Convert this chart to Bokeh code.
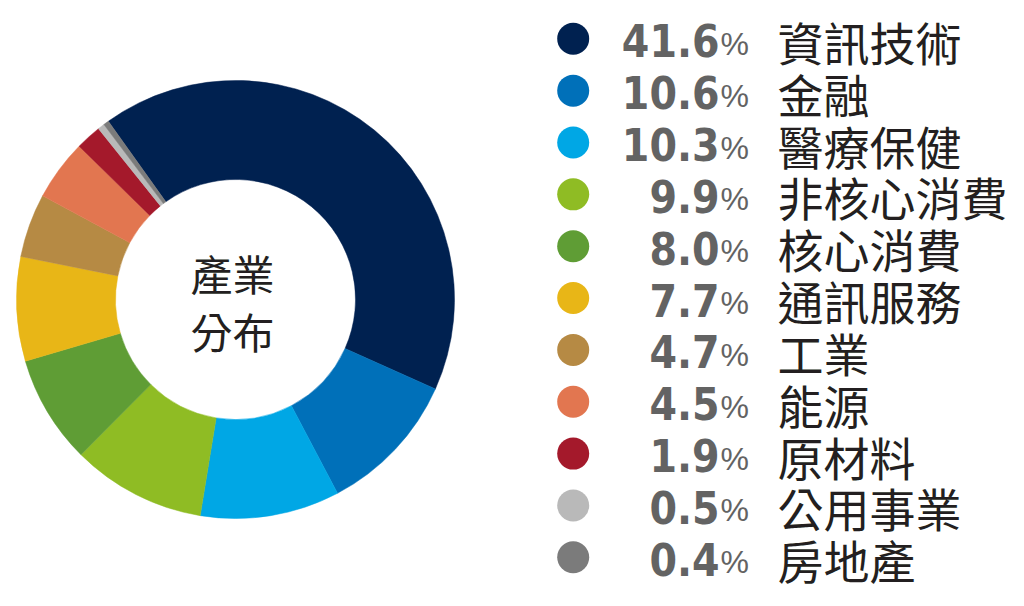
import numpy as np
from bokeh.plotting import figure
from bokeh.models import Range1d, ColumnDataSource
from bokeh.core.properties import value
from bokeh.embed import file_html
from bokeh.resources import INLINE

sectors = ["資訊技術", "金融", "醫療保健", "非核心消費", "核心消費", "通訊服務",
           "工業", "能源", "原材料", "公用事業", "房地產"]
weights = [41.6, 10.6, 10.3, 9.9, 8.0, 7.7, 4.7, 4.5, 1.9, 0.5, 0.4]
pct_labels = ["41.6", "10.6", "10.3", "9.9", "8.0", "7.7", "4.7", "4.5", "1.9", "0.5", "0.4"]
colors = ["#002150", "#0070b9", "#00a7e5", "#8fbc24", "#5f9d35", "#e8b617",
          "#b68a44", "#e27650", "#a4192b", "#b9b9b9", "#7b7b7b"]
center_lines = ["產業", "分布"]

W, H = 1008, 598
p = figure(width=W, height=H, output_backend="svg", toolbar_location=None,
           x_range=Range1d(0, W), y_range=Range1d(598 - H, 598),
           min_border=0)
p.axis.visible = False
p.grid.visible = False
p.outline_line_color = None
p.background_fill_color = "white"

# donut (clockwise from 35.5 deg left of 12 o'clock)
w = np.array(weights) / sum(weights)
cum = np.concatenate([[0], np.cumsum(w)])
start_deg = -35.5
ang_start = np.deg2rad(90 - (start_deg + 360 * cum[:-1]))
ang_end = np.deg2rad(90 - (start_deg + 360 * cum[1:]))
cx, cy = 235, 598 - 299
src = ColumnDataSource(dict(start=ang_start, end=ang_end, color=colors))
p.annular_wedge(x=cx, y=cy, inner_radius=120, outer_radius=219,
                start_angle="start", end_angle="end", direction="clock",
                fill_color="color", line_color="color", line_width=0.5, source=src)

# centre text
p.text(x=[cx - 3, cx - 3], y=[598 - 272, 598 - 330], text=center_lines,
       text_font=value("'Noto Sans CJK TC'"), text_font_size="42px",
       text_color="#231f20", text_align="center", text_baseline="middle")

# legend
n = len(sectors)
ys = [598 - (38.3 + 51.85 * i) for i in range(n)]
p.scatter(x=[572.7] * n, y=ys, size=32, marker="circle",
          fill_color=colors, line_color=None)
p.text(x=[719] * n, y=[yy - 2 for yy in ys], text=pct_labels,
       text_font=value("'DejaVu Sans Condensed'"),
       text_font_style="bold", text_font_size="44px", text_color="#636363",
       text_align="right", text_baseline="middle")
p.text(x=[720] * n, y=[yy - 5 for yy in ys], text=["%"] * n,
       text_font=value("'Liberation Sans'"),
       text_font_size="32px", text_color="#636363",
       text_align="left", text_baseline="middle")
p.text(x=[777] * n, y=[yy - 2 for yy in ys], text=sectors,
       text_font=value("'Noto Sans CJK TC'"), text_font_size="46px",
       text_color="#231f20", text_align="left", text_baseline="middle")

open("out.html", "w").write(file_html(p, INLINE))
